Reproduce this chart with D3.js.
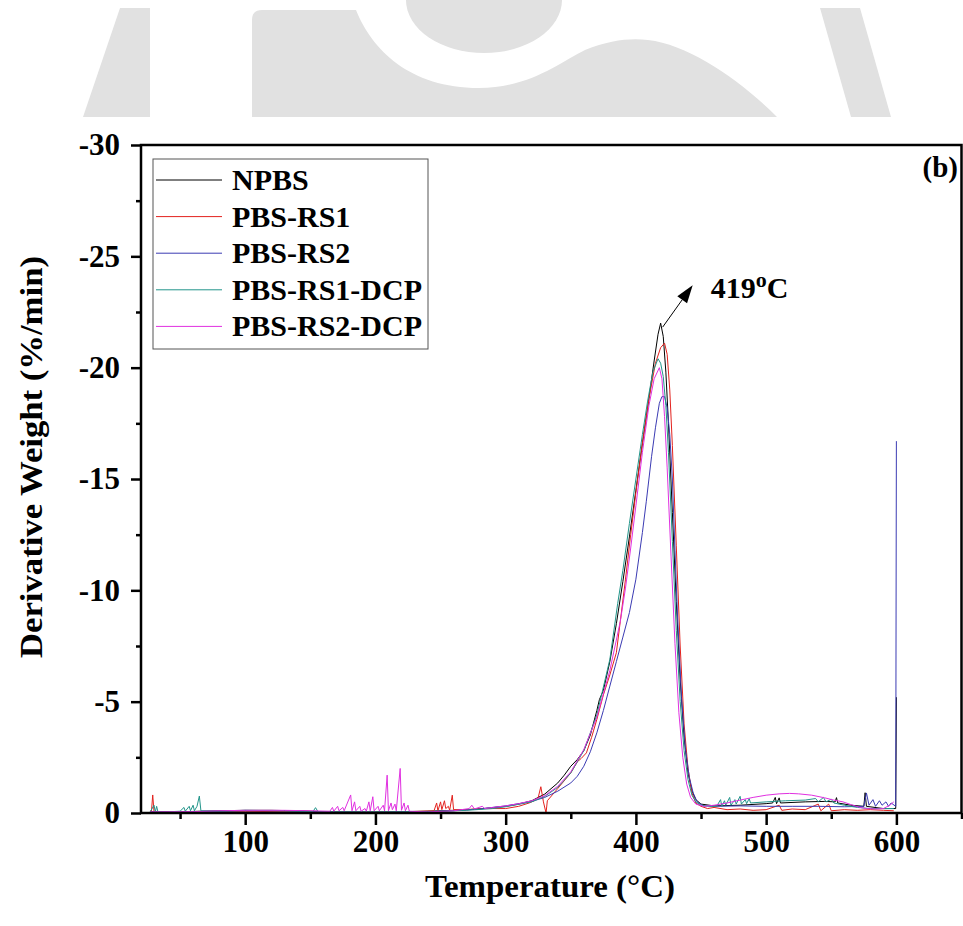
<!DOCTYPE html>
<html>
<head>
<meta charset="utf-8">
<script src="https://cdn.jsdelivr.net/npm/d3@7"></script>
<style>
  body { margin: 0; background: #fff; }
  svg text { font-family: "Liberation Serif", "Times New Roman", serif; font-weight: bold; fill: #000; }
</style>
</head>
<body>
<div id="chart"></div>
<script>
// DTG curves: derivative weight (%/min) against temperature (°C)
const seriesNames = ["NPBS", "PBS-RS1", "PBS-RS2", "PBS-RS1-DCP", "PBS-RS2-DCP"];
const seriesColors = ["#000000", "#e3221e", "#3b3bb3", "#22958a", "#e030e0"];
const xTicks = [100, 200, 300, 400, 500, 600];
const xMinorTicks = [50, 150, 250, 350, 450, 550, 650];
const yTicks = [0, -5, -10, -15, -20, -25, -30];
const yMinorTicks = [-2.5, -7.5, -12.5, -17.5, -22.5, -27.5];
const peakLabel = { temp: 419, value: -22.0, text: "419", sup: "o", unit: "C" };

const npbs = [[27,-0.05],[35,-0.06],[50,-0.05],[65,-0.08],[80,-0.1],[100,-0.12],[120,-0.12],[140,-0.1],
  [160,-0.06],[180,-0.05],[200,-0.05],[220,-0.06],[240,-0.08],[260,-0.12],[280,-0.18],[300,-0.3],
  [310,-0.4],[320,-0.55],[330,-0.85],[340,-1.35],[345,-1.7],[350,-2.1],[355,-2.4],[360,-2.8],
  [365,-3.5],[370,-4.6],[372,-5.1],[375,-5.5],[380,-6.8],[385,-8.5],[390,-10.4],[395,-12.4],
  [400,-14.5],[405,-16.6],[410,-18.6],[414,-20.3],[417,-21.5],[419,-22.0],[421,-21.4],[423,-19.8],
  [425,-17.5],[428,-13.5],[431,-9.5],[434,-6.0],[437,-3.4],[440,-1.8],[443,-1.0],[446,-0.6],
  [450,-0.4],[460,-0.32],[480,-0.35],[500,-0.42],[505,-0.45],[507,-0.7],[508,-0.42],[510,-0.68],
  [511,-0.45],[530,-0.5],[545,-0.52],[553,-0.5],[554,-0.69],[555,-0.45],[565,-0.35],[575,-0.3],
  [576,-0.91],[577,-0.3],[590,-0.2],[599.5,-0.2],[600,-5.2]];

const pbsRs1 = [[27,-0.1],[28,-0.05],[29,-0.81],[30,-0.05],[60,-0.05],[100,-0.06],[140,-0.08],
  [180,-0.05],[220,-0.05],[245,-0.1],[247,-0.45],[248,-0.1],[250,-0.5],[251,-0.15],[253,-0.55],
  [254,-0.2],[256,-0.3],[257,-0.12],[259,-0.8],[260,-0.15],[270,-0.15],[280,-0.2],[290,-0.2],
  [300,-0.2],[310,-0.3],[318,-0.45],[322,-0.55],[325,-0.7],[327,-1.18],[329,-0.5],[331,0.0],
  [332,-0.55],[340,-1.1],[350,-1.8],[355,-2.3],[358,-2.45],[362,-2.7],[366,-3.4],[370,-4.2],
  [375,-5.3],[380,-6.2],[385,-7.2],[388,-8.6],[392,-10.5],[396,-12.5],[400,-14.4],[405,-16.6],
  [410,-18.6],[415,-20.2],[419,-20.9],[422,-21.1],[424,-20.6],[426,-19.0],[428,-16.5],[431,-12.0],
  [434,-7.5],[437,-4.0],[440,-2.0],[443,-0.9],[446,-0.45],[450,-0.3],[455,-0.2],[460,-0.25],
  [470,-0.15],[480,-0.18],[490,-0.12],[500,-0.15],[510,-0.35],[512,-0.12],[520,-0.18],[530,-0.15],
  [540,-0.4],[542,-0.1],[548,-0.4],[550,-0.1],[560,-0.15],[570,-0.12],[580,-0.15],[590,-0.12],[598,-0.1]];

const pbsRs2 = [[27,-0.05],[50,-0.05],[80,-0.08],[100,-0.1],[130,-0.1],[160,-0.05],[200,-0.04],
  [240,-0.06],[260,-0.1],[280,-0.18],[300,-0.32],[320,-0.52],[330,-0.7],[340,-0.98],[350,-1.35],
  [355,-1.65],[360,-2.1],[365,-2.75],[370,-3.6],[375,-4.6],[380,-5.7],[385,-6.8],[390,-7.9],
  [395,-9.0],[400,-10.5],[405,-12.6],[408,-14.0],[412,-16.0],[415,-17.3],[418,-18.4],[420,-18.7],
  [422,-18.7],[424,-18.2],[426,-17.0],[428,-15.0],[430,-11.8],[432,-8.8],[435,-5.2],[438,-2.9],
  [441,-1.6],[444,-0.9],[447,-0.5],[452,-0.32],[460,-0.3],[480,-0.32],[500,-0.3],[520,-0.3],
  [540,-0.3],[560,-0.28],[575,-0.3],[577,-0.9],[579,-0.35],[582,-0.6],[584,-0.3],[587,-0.55],
  [589,-0.35],[592,-0.5],[594,-0.3],[596,-0.45],[599.5,-0.3],[600,-16.7]];

const pbsRs1Dcp = [[27,-0.05],[30,-0.35],[31,-0.05],[32,-0.3],[33,-0.05],[40,-0.05],[50,-0.08],
  [53,-0.25],[54,-0.08],[57,-0.3],[58,-0.1],[60,-0.35],[61,-0.1],[63,-0.3],[64.8,-0.76],[66,-0.1],
  [80,-0.08],[100,-0.12],[130,-0.1],[152,-0.06],[154,-0.24],[156,-0.05],[180,-0.05],[220,-0.05],
  [250,-0.08],[270,-0.12],[290,-0.2],[300,-0.28],[320,-0.5],[330,-0.75],[340,-1.15],[350,-1.8],
  [360,-2.8],[370,-4.4],[380,-6.9],[386,-9.4],[390,-10.9],[395,-13.0],[400,-15.0],[405,-17.0],
  [409,-18.5],[413,-19.8],[417,-20.4],[419,-20.2],[421,-19.6],[423,-18.3],[425,-16.2],[428,-12.2],
  [431,-8.2],[434,-5.0],[437,-2.8],[440,-1.5],[443,-0.8],[446,-0.5],[450,-0.35],[458,-0.3],
  [462,-0.3],[465,-0.6],[466,-0.3],[468,-0.55],[469,-0.35],[472,-0.7],[473,-0.35],[476,-0.6],
  [477,-0.4],[480,-0.75],[481,-0.4],[484,-0.6],[485,-0.42],[487,-0.65],[488,-0.45],[500,-0.5],
  [515,-0.55],[530,-0.58],[538,-0.65],[540,-0.5],[544,-0.7],[546,-0.5],[550,-0.62],[552,-0.45],
  [560,-0.35],[570,-0.25],[580,-0.2],[590,-0.2],[598,-0.2]];

const pbsRs2Dcp = [[27,-0.05],[60,-0.06],[80,-0.1],[100,-0.12],[130,-0.12],[150,-0.1],[165,-0.08],
  [167,-0.25],[168,-0.08],[171,-0.3],[172,-0.1],[175,-0.25],[176,-0.1],[181,-0.81],[182,-0.1],
  [184,-0.5],[185,-0.1],[188,-0.3],[189,-0.08],[192,-0.2],[193,-0.08],[195,-0.5],[196,-0.1],
  [198,-0.73],[199,-0.1],[202,-0.3],[203,-0.1],[206,-0.35],[207,-0.1],[209,-1.7],[210,-0.1],
  [212,-0.45],[213,-0.15],[215,-0.4],[216,-0.1],[219,-2.0],[220,-0.12],[222,-0.45],[223,-0.1],
  [225,-0.35],[226,-0.08],[240,-0.05],[260,-0.1],[272,-0.2],[274,-0.35],[276,-0.18],[282,-0.3],
  [284,-0.2],[290,-0.25],[300,-0.32],[310,-0.42],[320,-0.55],[330,-0.78],[340,-1.2],[350,-1.85],
  [360,-2.85],[370,-4.3],[380,-6.4],[388,-8.6],[392,-10.1],[396,-11.9],[400,-13.8],[405,-16.2],
  [410,-18.3],[414,-19.5],[418,-20.0],[420,-19.5],[422,-17.8],[424,-15.5],[427,-11.5],[430,-7.6],
  [433,-4.5],[436,-2.5],[439,-1.3],[442,-0.7],[446,-0.4],[452,-0.3],[460,-0.35],[470,-0.45],
  [480,-0.58],[490,-0.7],[500,-0.8],[510,-0.86],[518,-0.88],[525,-0.86],[535,-0.8],[545,-0.68],
  [552,-0.58],[559,-0.5],[565,-0.38],[572,-0.25],[577,-0.2],[585,-0.18],[590,-0.2],[595,-0.35],[598,-0.5]];

const seriesData = [npbs, pbsRs1, pbsRs2, pbsRs1Dcp, pbsRs2Dcp];

const W = 963, H = 926;
const margin = { top: 145, right: 1.5, bottom: 113, left: 141 };
const width = W - margin.left - margin.right;
const height = H - margin.top - margin.bottom;

const svg = d3.select("#chart").append("svg")
  .attr("width", W)
  .attr("height", H)
  .style("display", "block");

// faint watermark behind the figure
const wm = svg.append("g").attr("fill", "#e1e1e1");
wm.append("path").attr("d", "M83,117 L120,8 L150,8 L150,117 Z");
wm.append("path").attr("d", "M252,117 L252,20 Q252,10 262,10 L356,10 C372,50 410,88 479,88 C530,88 560,62 585,50 C610,40 630,38 648,40 C690,45 740,80 777,117 Z");
wm.append("ellipse").attr("cx", 484).attr("cy", 0).attr("rx", 78).attr("ry", 53);
wm.append("path").attr("d", "M820,8 L860,8 L891,117 L851,117 Z");

const g = svg.append("g").attr("transform", `translate(${margin.left},${margin.top})`);

const x = d3.scaleLinear().domain([20, 650]).range([0, width]);
const y = d3.scaleLinear().domain([0, -30]).range([height, 0]);

svg.append("defs").append("clipPath").attr("id", "clip")
  .append("rect").attr("width", width).attr("height", height);

// curves
const line = d3.line().x(d => x(d[0])).y(d => y(d[1]));
g.append("g").attr("clip-path", "url(#clip)")
  .selectAll("path")
  .data(seriesData)
  .enter()
  .append("path")
    .attr("d", line)
    .attr("fill", "none")
    .attr("stroke", (d, i) => seriesColors[i])
    .attr("stroke-width", 1)
    .attr("stroke-linejoin", "round");

// axes
const xAxis = g.append("g").attr("transform", `translate(0,${height})`)
  .call(d3.axisBottom(x).tickValues(xTicks).tickSize(12).tickPadding(5));
const xMinor = g.append("g").attr("transform", `translate(0,${height})`)
  .call(d3.axisBottom(x).tickValues(xMinorTicks).tickSize(6).tickFormat(""));
const yAxis = g.append("g")
  .call(d3.axisLeft(y).tickValues(yTicks).tickSize(10).tickPadding(11).tickFormat(d => String(d)));
const yMinor = g.append("g")
  .call(d3.axisLeft(y).tickValues(yMinorTicks).tickSize(5).tickFormat(""));

[xAxis, xMinor, yAxis, yMinor].forEach(a => {
  a.select(".domain").remove();
  a.selectAll(".tick line").attr("stroke", "#000").attr("stroke-width", 2.5);
  a.selectAll("text").attr("font-size", 31);
});

// frame
g.append("rect")
  .attr("width", width)
  .attr("height", height)
  .attr("fill", "none")
  .attr("stroke", "#000")
  .attr("stroke-width", 2.5);

// axis titles
svg.append("text")
  .attr("x", 550)
  .attr("y", 897)
  .attr("text-anchor", "middle")
  .attr("font-size", 31)
  .attr("textLength", 250)
  .attr("lengthAdjust", "spacingAndGlyphs")
  .text("Temperature (°C)");

svg.append("text")
  .attr("transform", "translate(42,457) rotate(-90)")
  .attr("text-anchor", "middle")
  .attr("font-size", 31)
  .attr("textLength", 402)
  .attr("lengthAdjust", "spacingAndGlyphs")
  .text("Derivative Weight (%/min)");

// panel tag
svg.append("text")
  .attr("x", 958)
  .attr("y", 177)
  .attr("text-anchor", "end")
  .attr("font-size", 29)
  .text("(b)");

// peak annotation with arrow
const ax0 = x(peakLabel.temp) + 2, ay0 = y(peakLabel.value) + 4;
const ax1 = ax0 + 30, ay1 = ay0 - 42;
const ang = Math.atan2(ay1 - ay0, ax1 - ax0);
const headLen = 18, headW = 6;
const bx = ax1 - headLen * Math.cos(ang), by = ay1 - headLen * Math.sin(ang);
g.append("line")
  .attr("x1", ax0).attr("y1", ay0).attr("x2", bx).attr("y2", by)
  .attr("stroke", "#000").attr("stroke-width", 1);
g.append("path")
  .attr("d", `M${ax1},${ay1} L${bx + headW * Math.sin(ang)},${by - headW * Math.cos(ang)} L${bx - headW * Math.sin(ang)},${by + headW * Math.cos(ang)} Z`)
  .attr("fill", "#000");

const lbl = g.append("text")
  .attr("x", ax1 + 18)
  .attr("y", ay1 + 13)
  .attr("font-size", 30);
lbl.append("tspan").text(peakLabel.text);
lbl.append("tspan").attr("font-size", 22).attr("dy", -11).text(peakLabel.sup);
lbl.append("tspan").attr("dy", 11).text(peakLabel.unit);

// legend
const leg = svg.append("g").attr("transform", "translate(153,159)");
leg.append("rect")
  .attr("width", 275)
  .attr("height", 190)
  .attr("fill", "#fff")
  .attr("stroke", "#555")
  .attr("stroke-width", 1);
const rows = leg.selectAll(".row")
  .data(seriesNames)
  .enter()
  .append("g")
    .attr("transform", (d, i) => `translate(0,${21 + i * 36.6})`);
rows.append("line")
  .attr("x1", 3).attr("x2", 69)
  .attr("stroke", (d, i) => seriesColors[i])
  .attr("stroke-width", 1);
rows.append("text")
  .attr("x", 79)
  .attr("y", 10)
  .attr("font-size", 30)
  .text(d => d);
</script>
</body>
</html>
